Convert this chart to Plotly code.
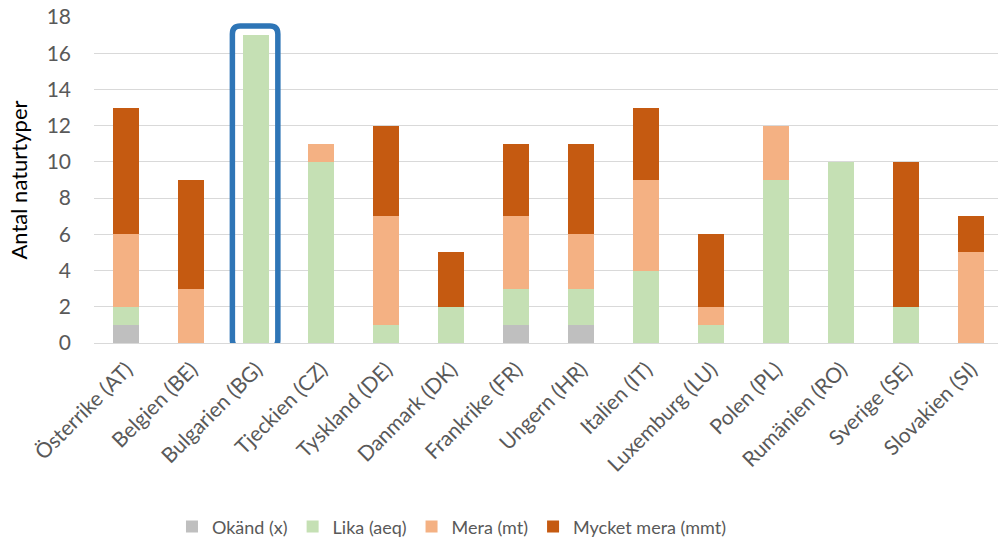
import plotly.graph_objects as go

categories = ["Österrike (AT)", "Belgien (BE)", "Bulgarien (BG)", "Tjeckien (CZ)",
              "Tyskland (DE)", "Danmark (DK)", "Frankrike (FR)", "Ungern (HR)",
              "Italien (IT)", "Luxemburg (LU)", "Polen (PL)", "Rumänien (RO)",
              "Sverige (SE)", "Slovakien (SI)"]
okand = [1, 0, 0, 0, 0, 0, 1, 1, 0, 0, 0, 0, 0, 0]
lika = [1, 0, 17, 10, 1, 2, 2, 2, 4, 1, 9, 10, 2, 0]
mera = [4, 3, 0, 1, 6, 0, 4, 3, 5, 1, 3, 0, 0, 5]
mycket_mera = [7, 6, 0, 0, 5, 3, 4, 5, 4, 4, 0, 0, 8, 2]
series_names = ["Okänd (x)", "Lika (aeq)", "Mera (mt)", "Mycket mera (mmt)"]
series_colors = ["#BFBFBF", "#C5E0B4", "#F4B183", "#C55A11"]
y_ticks = [0, 2, 4, 6, 8, 10, 12, 14, 16, 18]
highlight = "Bulgarien (BG)"

FONT = "Lato, 'Open Sans', sans-serif"
x_idx = list(range(len(categories)))

fig = go.Figure()
for name, vals, col in zip(series_names, [okand, lika, mera, mycket_mera], series_colors):
    fig.add_trace(go.Bar(x=x_idx, y=vals, name=name, marker=dict(color=col, line=dict(width=0)),
                         width=0.4))

# highlight box around chosen category
hi = categories.index(highlight)
top = okand[hi] + lika[hi] + mera[hi] + mycket_mera[hi]
x0, x1 = hi - 0.37, hi + 0.33
y0, y1 = -0.26, top + 0.5
rx, ry = 0.12, 0.44
path = (f"M {x0+rx},{y0} L {x1-rx},{y0} Q {x1},{y0} {x1},{y0+ry} "
        f"L {x1},{y1-ry} Q {x1},{y1} {x1-rx},{y1} L {x0+rx},{y1} Q {x0},{y1} {x0},{y1-ry} "
        f"L {x0},{y0+ry} Q {x0},{y0} {x0+rx},{y0} Z")
fig.add_shape(type="path", path=path, xref="x", yref="y",
              line=dict(color="#2E75B6", width=5.5), layer="above")

fig.update_layout(
    barmode="stack",
    width=998, height=541,
    margin=dict(l=93.5, r=0, t=17, b=198, autoexpand=False),
    paper_bgcolor="white", plot_bgcolor="white",
    font=dict(family=FONT, color="#595959", size=20),
    xaxis=dict(tickmode="array", tickvals=x_idx, ticktext=categories, tickangle=-45,
               range=[-0.5, 13.415], showgrid=False, zeroline=False, showline=False,
               ticks="", ticklabelstandoff=9,
               tickfont=dict(size=21, color="#595959"), automargin=False),
    yaxis=dict(range=[0, 18], tickvals=y_ticks, showgrid=True, gridcolor="#D9D9D9",
               gridwidth=1.3, zeroline=True, zerolinecolor="#D9D9D9", zerolinewidth=1.3,
               showline=False, ticks="", ticklabelstandoff=22, automargin=False,
               tickfont=dict(size=21, color="#595959"),
               title=dict(text="Antal naturtyper", font=dict(size=22, color="#000000"),
                          standoff=12)),
    legend=dict(orientation="h", x=0.396, xanchor="center", y=-0.564, yanchor="middle",
                font=dict(size=18, color="#595959"), itemwidth=30,
                traceorder="normal"),
    showlegend=True,
)

fig.write_html("out.html", config={"displayModeBar": False},
               post_script="document.body.style.margin='0';")
